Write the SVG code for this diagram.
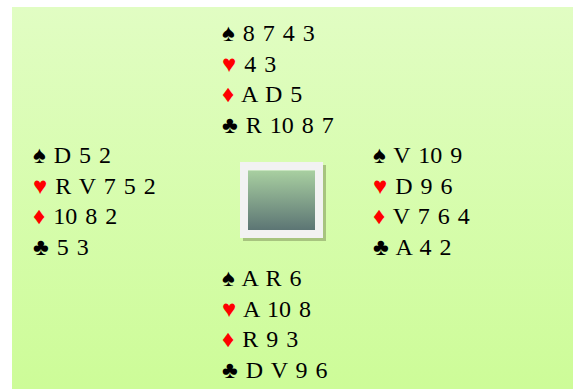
<svg xmlns="http://www.w3.org/2000/svg" width="579" height="389" viewBox="0 0 579 389">
<style>
text{font-family:"Liberation Serif","Times New Roman",serif;font-size:24px;fill:#000;word-spacing:2px}
.r{fill:#ff0000}
</style>
<defs>
<linearGradient id="bg" x1="0" y1="0" x2="0" y2="1">
<stop offset="0" stop-color="#e1fdc3"/>
<stop offset="1" stop-color="#cdfc98"/>
</linearGradient>
<linearGradient id="tbl" x1="0" y1="0" x2="0" y2="1">
<stop offset="0" stop-color="#a9d0a1"/>
<stop offset="1" stop-color="#5c7574"/>
</linearGradient>
</defs>
<rect x="12" y="7" width="561" height="382" fill="url(#bg)"/>
<g id="table">
<rect x="243" y="165" width="83" height="76" fill="#a7c47f"/>
<rect x="240" y="162" width="83" height="76" fill="#f2f2f2"/>
<rect x="248" y="170" width="67" height="60" fill="url(#tbl)"/>
<rect x="248" y="170" width="67" height="1" fill="#c8e4c0"/>
</g>
<g id="north">
<text x="222" y="41"><tspan>♠</tspan> 8 7 4 3</text>
<text x="222" y="72"><tspan class="r">♥</tspan> 4 3</text>
<text x="222" y="102"><tspan class="r">♦</tspan> A D 5</text>
<text x="222" y="133"><tspan>♣</tspan> R 10 8 7</text>
</g>
<g id="west">
<text x="33" y="163"><tspan>♠</tspan> D 5 2</text>
<text x="33" y="194"><tspan class="r">♥</tspan> R V 7 5 2</text>
<text x="33" y="224"><tspan class="r">♦</tspan> 10 8 2</text>
<text x="33" y="255"><tspan>♣</tspan> 5 3</text>
</g>
<g id="east">
<text x="373" y="163"><tspan>♠</tspan> V 10 9</text>
<text x="373" y="194"><tspan class="r">♥</tspan> D 9 6</text>
<text x="373" y="224"><tspan class="r">♦</tspan> V 7 6 4</text>
<text x="373" y="255"><tspan>♣</tspan> A 4 2</text>
</g>
<g id="south">
<text x="222" y="286"><tspan>♠</tspan> A R 6</text>
<text x="222" y="317"><tspan class="r">♥</tspan> A 10 8</text>
<text x="222" y="347"><tspan class="r">♦</tspan> R 9 3</text>
<text x="222" y="378"><tspan>♣</tspan> D V 9 6</text>
</g>
</svg>
